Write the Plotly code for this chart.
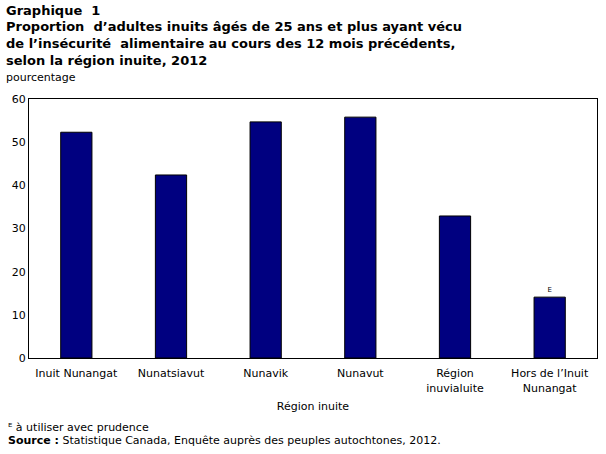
import plotly.graph_objects as go

categories = ["Inuit Nunangat", "Nunatsiavut", "Nunavik", "Nunavut", "Région<br>inuvialuite", "Hors de l’Inuit<br>Nunangat"]
values = [52.3, 42.4, 54.7, 55.8, 32.9, 14.1]
flags = ["", "", "", "", "", "E"]
y_ticks = [0, 10, 20, 30, 40, 50, 60]

FONT = "DejaVu Sans, Verdana, sans-serif"
PW, PH, ML, MT = 568, 259, 29, 99

fig = go.Figure()
fig.add_trace(go.Bar(
    x=categories, y=values, width=0.33,
    marker=dict(color="#000080", line=dict(color="#000000", width=1)),
    text=flags, textposition="outside",
    textfont=dict(size=7, color="#000000", family=FONT),
    cliponaxis=False,
))

fig.update_layout(
    width=606, height=454,
    margin=dict(l=ML, r=9, t=MT, b=96),
    paper_bgcolor="white", plot_bgcolor="white",
    font=dict(family=FONT, size=11, color="#000000"),
    showlegend=False,
    bargap=0.67,
)
fig.update_xaxes(
    showline=True, linecolor="#000000", linewidth=1, mirror=True,
    ticks="", showgrid=False, tickfont=dict(size=11), ticklabelstandoff=5,
    title=dict(text="Région inuite", font=dict(size=11), standoff=8),
)
fig.update_yaxes(
    range=[0, 60], tickvals=y_ticks, showline=True, linecolor="#000000",
    linewidth=1, mirror=True, ticks="", showgrid=False, zeroline=False,
    tickfont=dict(size=11),
)

def px_x(x):
    return (x - ML) / PW

def px_y(y):
    return 1 - (y - MT) / PH

title_lines = [
    "Graphique  1",
    "Proportion  d’adultes inuits âgés de 25 ans et plus ayant vécu",
    "de l’insécurité  alimentaire au cours des 12 mois précédents,",
    "selon la région inuite, 2012",
]
for i, t in enumerate(title_lines):
    fig.add_annotation(
        text="<b>" + t + "</b>", xref="paper", yref="paper",
        x=px_x(4), y=px_y(10 + i * 16.7), xanchor="left", yanchor="middle",
        showarrow=False, font=dict(size=13, family=FONT),
    )
fig.add_annotation(
    text="pourcentage", xref="paper", yref="paper",
    x=px_x(4), y=px_y(78), xanchor="left", yanchor="middle",
    showarrow=False, font=dict(size=11, family=FONT),
)
fig.add_annotation(
    text="ᴱ à utiliser avec prudence", xref="paper", yref="paper",
    x=px_x(6), y=px_y(427), xanchor="left", yanchor="middle",
    showarrow=False, font=dict(size=11, family=FONT),
)
fig.add_annotation(
    text="<b>Source :</b> Statistique Canada, Enquête auprès des peuples autochtones, 2012.",
    xref="paper", yref="paper",
    x=px_x(6), y=px_y(440), xanchor="left", yanchor="middle",
    showarrow=False, font=dict(size=11, family=FONT),
)

fig.write_html("out.html")
